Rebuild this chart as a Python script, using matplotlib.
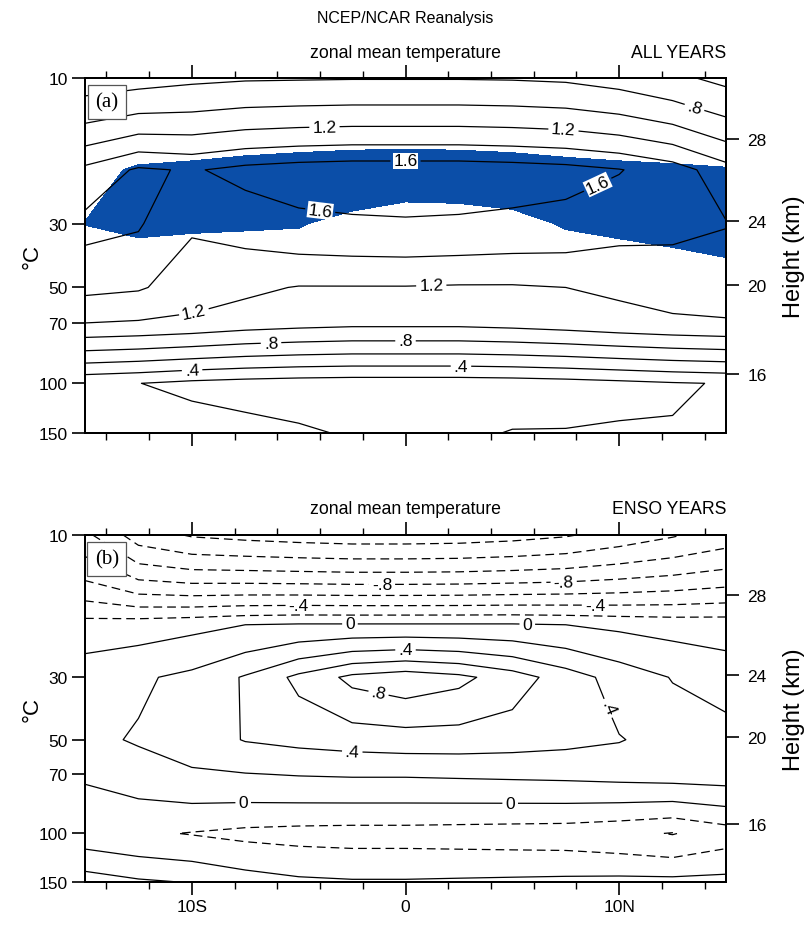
import numpy as np
import matplotlib.pyplot as plt
from matplotlib.ticker import NullLocator

plt.rcParams['font.family'] = ['Liberation Sans', 'DejaVu Sans']

# grid: latitude (deg) and NCEP pressure levels (hPa)
lats = np.arange(-15, 15.1, 2.5)
plev = np.array([10, 20, 30, 50, 70, 100, 150])

# (a) all years, rows follow plev
temp_all = np.array([
    [0.69, 0.72, 0.76, 0.78, 0.785, 0.79, 0.79, 0.79, 0.785, 0.77, 0.72, 0.64, 0.55],
    [1.45, 1.63, 1.58, 1.66, 1.70, 1.72, 1.72, 1.72, 1.70, 1.67, 1.61, 1.50, 1.28],
    [1.66, 1.62, 1.42, 1.48, 1.55, 1.57, 1.58, 1.57, 1.55, 1.53, 1.47, 1.45, 1.41],
    [1.45, 1.42, 1.31, 1.24, 1.19, 1.19, 1.19, 1.18, 1.18, 1.20, 1.23, 1.27, 1.25],
    [1.20, 1.18, 1.15, 1.10, 1.07, 1.05, 1.05, 1.05, 1.07, 1.10, 1.14, 1.17, 1.19],
    [0.24, 0.203, 0.15, 0.12, 0.10, 0.09, 0.09, 0.09, 0.10, 0.12, 0.15, 0.185, 0.21],
    [0.38, 0.35, 0.31, 0.27, 0.23, 0.18, 0.15, 0.16, 0.21, 0.21, 0.22, 0.21, 0.30],
])

# shaded region (values > 1)
shade_all = np.array([
    [0.0] * 13,
    [0.80, 1.08, 1.15, 1.25, 1.32, 1.38, 1.40, 1.38, 1.32, 1.22, 1.15, 1.10, 1.04],
    [1.01, 1.11, 1.07, 1.05, 1.03, 0.86, 0.67, 0.72, 0.86, 1.04, 1.12, 1.23, 1.44],
    [0.5] * 13,
    [0.0] * 13,
    [0.0] * 13,
    [0.0] * 13,
])

# (b) ENSO years
temp_enso = np.array([
    [-0.95, -1.30, -1.42, -1.46, -1.49, -1.51, -1.51, -1.50, -1.47, -1.42, -1.32, -1.22, -1.11],
    [-0.12, -0.09, -0.05, 0.00, 0.02, 0.02, 0.02, 0.02, 0.02, 0.00, -0.04, -0.07, -0.08],
    [0.12, 0.17, 0.25, 0.42, 0.65, 0.85, 0.92, 0.85, 0.70, 0.50, 0.32, 0.19, 0.10],
    [0.15, 0.22, 0.30, 0.41, 0.45, 0.48, 0.50, 0.50, 0.48, 0.45, 0.41, 0.33, 0.30],
    [0.02, 0.10, 0.17, 0.19, 0.21, 0.22, 0.22, 0.23, 0.24, 0.25, 0.27, 0.29, 0.30],
    [-0.12, -0.17, -0.21, -0.25, -0.27, -0.28, -0.28, -0.29, -0.30, -0.31, -0.35, -0.41, -0.30],
    [0.31, 0.23, 0.19, 0.10, 0.04, 0.02, 0.02, 0.03, 0.04, 0.05, 0.06, 0.06, 0.07],
])

levels_a_lab = [0.4, 0.8, 1.2, 1.6]
levels_a_other = [0.2, 0.6, 1.0, 1.4]
levels_b_lab = [-0.8, -0.4, 0.0, 0.4, 0.8]
levels_b_other = [-1.4, -1.2, -1.0, -0.6, -0.2, 0.2, 0.6]

p_ticks = [10, 30, 50, 70, 100, 150]
hgt_ticks = [28, 24, 20, 16]
# height <-> pressure table used for the right axis
km_tab = [31.1, 28, 24, 20, 16, 13.6]
p_tab = [10, 15.9, 29.5, 49.0, 94.7, 150]

# the pressure axis of the original is slightly irregular
p_nodes = np.array([10, 30, 50, 70, 100, 150])
f_nodes = np.array([0.0, 0.41, 0.59, 0.69, 0.86, 1.0])


def p_fwd(p):
    p = np.clip(np.asarray(p, dtype=float), 1e-3, None)
    return np.interp(np.log10(p), np.log10(p_nodes), f_nodes)


def p_inv(f):
    return 10 ** np.interp(f, f_nodes, np.log10(p_nodes))


def fmt(v):
    if abs(v) < 1e-9:
        return '0'
    return f'{v:.1f}'.replace('0.', '.')


W, H = 809, 929
fig = plt.figure(figsize=(W / 100, H / 100), dpi=100)

blue = '#0b4ea8'
tick_fs = 12.5
dash = (0, (7, 4))


def setup(ax, top_px, bot_px, tag, right_title, xlabels):
    ax.set_yscale('function', functions=(p_fwd, p_inv))
    ax.set_xlim(-15, 15)
    ax.set_ylim(150, 10)
    ax.set_yticks(p_ticks)
    ax.set_yticklabels([str(p) for p in p_ticks], fontsize=tick_fs)
    ax.yaxis.set_minor_locator(NullLocator())
    ax.set_xticks([-10, 0, 10])
    ax.set_xticks(np.arange(-14, 15, 2), minor=True)
    ax.set_xticklabels(['10S', '0', '10N'] if xlabels else ['', '', ''], fontsize=tick_fs)
    ax.tick_params(which='major', direction='out', length=9.5, width=1.2,
                   top=True, bottom=True, left=True, right=False, pad=3)
    ax.tick_params(which='minor', direction='out', length=5, width=1.0,
                   top=True, bottom=True)
    for s in ax.spines.values():
        s.set_linewidth(1.4)

    # right axis in km
    ax2 = ax.twinx()
    ax2.set_yscale('function', functions=(p_fwd, p_inv))
    ax2.set_ylim(150, 10)
    hgt_p = 10 ** np.interp(hgt_ticks, km_tab[::-1], np.log10(p_tab)[::-1])
    ax2.set_yticks(hgt_p)
    ax2.set_yticklabels([str(h) for h in hgt_ticks], fontsize=tick_fs)
    ax2.yaxis.set_minor_locator(NullLocator())
    ax2.tick_params(direction='out', length=9.5, width=1.2, pad=6)
    for s in ax2.spines.values():
        s.set_linewidth(1.4)

    ax.text(0.034, 1 - 24 / (bot_px - top_px), tag, transform=ax.transAxes,
            ha='center', va='center', fontsize=15, family='Liberation Serif',
            bbox=dict(boxstyle='square,pad=0.35', fc='white', ec='#555555', lw=0.9),
            zorder=5)

    yc = 1 - (top_px - 26) / H
    fig.text(405 / W, yc, 'zonal mean temperature', ha='center', va='center', fontsize=12.7)
    fig.text(726 / W, yc, right_title, ha='right', va='center', fontsize=12.7)
    ymid = 1 - (top_px + bot_px) / 2 / H
    fig.text(32 / W, ymid, '°C', rotation=90, ha='center', va='center', fontsize=16)
    fig.text(794 / W, ymid, 'Height (km)', rotation=90, ha='center', va='center', fontsize=17)


# panel (a)
ax_a = fig.add_axes([85 / W, 1 - 434 / H, 641 / W, 355 / H])
setup(ax_a, 79, 434, '(a)', 'ALL YEARS', False)
ax_a.contourf(lats, plev, shade_all, levels=[1.0, 10.0], colors=[blue], zorder=1)
ax_a.contour(lats, plev, temp_all, levels=levels_a_other, colors='k', linewidths=0.9, zorder=2)
cs_a = ax_a.contour(lats, plev, temp_all, levels=levels_a_lab, colors='k', linewidths=0.9, zorder=2)
lab_a = ax_a.clabel(cs_a, fmt=fmt, fontsize=12.5, inline=True, inline_spacing=3,
                    manual=[(13.6, 12.0), (-3.8, 13.8), (7.4, 14.4), (0, 16.7), (9.0, 22.4),
                            (-4.0, 27.5), (-10, 58.6), (1.2, 47.0), (-6.3, 76.9),
                            (0, 75.1), (-10, 89), (2.6, 86.7)])
for t in lab_a:
    if t.get_text() == '1.6':
        t.set_bbox(dict(fc='white', ec='none', pad=0.5))

# panel (b)
ax_b = fig.add_axes([85 / W, 1 - 883 / H, 641 / W, 347 / H])
setup(ax_b, 536, 883, '(b)', 'ENSO YEARS', True)
ax_b.contour(lats, plev, temp_enso, levels=levels_b_other, colors='k', linewidths=0.9,
             negative_linestyles=dash)
cs_b = ax_b.contour(lats, plev, temp_enso, levels=levels_b_lab, colors='k', linewidths=0.9,
                    negative_linestyles=dash)
ax_b.clabel(cs_b, fmt=fmt, fontsize=12.5, inline=True, inline_spacing=3,
            manual=[(-1.1, 14.7), (7.4, 14.0), (-5.0, 17.3), (8.9, 17.3), (-2.6, 19.9),
                    (5.7, 19.9), (0, 23.6), (-1.3, 35.3), (9.0, 39.8), (-2.5, 59.2),
                    (-7.6, 80.2), (4.9, 80.2)])

fig.text(405 / W, 1 - 18 / H, 'NCEP/NCAR Reanalysis', ha='center', va='center', fontsize=11.5)

fig.savefig('out.png', dpi=100)
